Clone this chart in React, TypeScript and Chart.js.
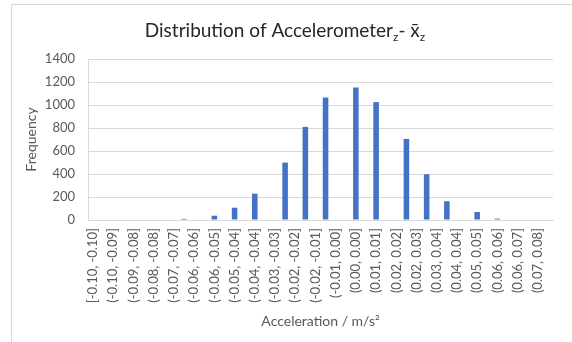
import React, { useEffect, useRef } from "react";
import { Chart, registerables } from "chart.js";

Chart.register(...registerables);

// Visible bin labels (every other category is labelled on the axis)
const binLabels: string[] = [
  "[-0.10, -0.10]", "(-0.10, -0.09]", "(-0.09, -0.08]", "(-0.08, -0.08]",
  "(-0.07, -0.07]", "(-0.06, -0.06]", "(-0.06, -0.05]", "(-0.05, -0.04]",
  "(-0.04, -0.04]", "(-0.03, -0.03]", "(-0.02, -0.02]", "(-0.02, -0.01]",
  "(-0.01, 0.00]", "(0.00, 0.00]", "(0.01, 0.01]", "(0.02, 0.02]",
  "(0.02, 0.03]", "(0.03, 0.04]", "(0.04, 0.04]", "(0.05, 0.05]",
  "(0.06, 0.06]", "(0.06, 0.07]", "(0.07, 0.08]",
];

// Frequencies of the 46 bins
const counts: number[] = [
  0, 0, 0, 0, 0, 0, 0, 0, 0, 10,
  0, 0, 37, 0, 107, 0, 229, 0, 0, 499,
  0, 810, 0, 1065, 0, 0, 1152, 0, 1025, 0,
  0, 705, 0, 398, 0, 163, 0, 0, 70, 0,
  12, 0, 0, 4, 0, 0,
];

const yTicks = { min: 0, max: 1400, step: 200 };

const FONT = "Lato, 'Open Sans', sans-serif";

const titlePlugin = {
  id: "richTitle",
  afterDraw(chart: any) {
    const ctx = chart.ctx as CanvasRenderingContext2D;
    ctx.save();
    const big = `19px ${FONT}`;
    const small = `12px ${FONT}`;
    const parts: { t: string; f: string; dy: number }[] = [
      { t: "Distribution of Accelerometer", f: big, dy: 0 },
      { t: "z", f: small, dy: 4 },
      { t: "- x\u0304", f: big, dy: 0 },
      { t: "z", f: small, dy: 4 },
    ];
    let total = 0;
    for (const p of parts) {
      ctx.font = p.f;
      total += ctx.measureText(p.t).width;
    }
    let x = 285 - total / 2;
    const baseY = 37;
    ctx.fillStyle = "#262626";
    ctx.textBaseline = "alphabetic";
    ctx.textAlign = "left";
    for (const p of parts) {
      ctx.font = p.f;
      ctx.fillText(p.t, x, baseY + p.dy);
      x += ctx.measureText(p.t).width;
    }
    ctx.restore();
  },
};

export default function App() {
  const ref = useRef<HTMLCanvasElement>(null);
  useEffect(() => {
    if (!ref.current) return;
    const labels = counts.map((_, i) => (i % 2 === 0 ? binLabels[i / 2] ?? "" : ""));
    const chart = new Chart(ref.current, {
      type: "bar",
      data: {
        labels,
        datasets: [
          {
            data: counts,
            backgroundColor: "#4472C4",
            barPercentage: 0.55,
            categoryPercentage: 1,
          },
        ],
      },
      plugins: [titlePlugin],
      options: {
        animation: false,
        responsive: false,
        maintainAspectRatio: false,
        layout: { padding: { top: 59, right: 19, left: 0, bottom: 0 } },
        plugins: { legend: { display: false }, tooltip: { enabled: false }, title: { display: false } },
        scales: {
          x: {
            grid: { display: false, drawTicks: false },
            border: { display: true, color: "#d9d9d9" },
            ticks: {
              autoSkip: false,
              minRotation: 90,
              maxRotation: 90,
              padding: 8,
              color: "#595959",
              font: { family: FONT, size: 13 },
            },
            title: {
              display: true,
              text: "Acceleration / m/s\u00B2",
              color: "#595959",
              font: { family: FONT, size: 14 },
              padding: { top: 0, bottom: 12 },
            },
            afterFit: (s: any) => {
              s.height = 122;
            },
          },
          y: {
            min: yTicks.min,
            max: yTicks.max,
            grid: { color: "#d9d9d9", drawTicks: false },
            border: { display: true, color: "#d9d9d9" },
            ticks: {
              stepSize: yTicks.step,
              padding: 13,
              color: "#595959",
              font: { family: FONT, size: 13 },
              callback: (v: any) => String(v),
            },
            title: {
              display: true,
              text: "Frequency",
              color: "#595959",
              font: { family: FONT, size: 14 },
              padding: { top: 23, bottom: 0 },
            },
            afterFit: (s: any) => {
              s.width = 88;
            },
          },
        },
      },
    });
    return () => chart.destroy();
  }, []);
  return (
    <div style={{ position: "fixed", left: 0, top: 0, width: 572, height: 342, background: "#fff", overflow: "hidden" }}>
      <div style={{ position: "absolute", left: 11, top: 4, width: 620, height: 400, border: "1px solid #d9d9d9", boxSizing: "border-box" }} />
      <canvas ref={ref} width={572} height={342} style={{ position: "absolute", left: 0, top: 0, width: 572, height: 342 }} />
    </div>
  );
}
